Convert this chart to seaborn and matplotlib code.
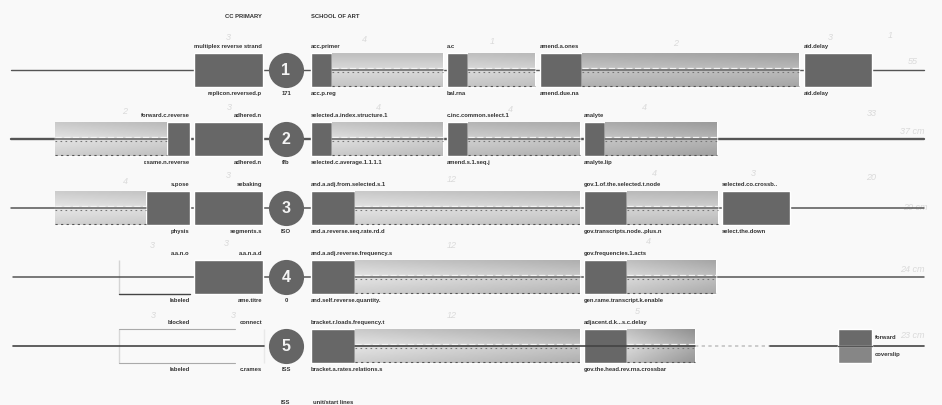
import numpy as np
import matplotlib
matplotlib.use("Agg")
import matplotlib.pyplot as plt
import seaborn as sns

tracks = ["1", "2", "3", "4", "5"]

# exon blocks
seg_track = [0, 0, 0, 0, 0, 0, 0, 0,
             1, 1, 1, 1, 1, 1, 1, 1, 1,
             2, 2, 2, 2, 2, 2, 2, 2,
             3, 3, 3, 3, 3,
             4, 4, 4, 4]
seg_start = [193.5, 311, 332, 447, 468, 539.5, 582, 803.5,
             55, 167, 193.5, 311, 332, 447, 468, 584, 605,
             55, 146, 193.5, 311, 355, 584, 627, 722,
             193.5, 311, 355, 584, 627,
             311, 355, 584, 627]
seg_end = [262.5, 332, 443, 468, 535, 582, 799, 872,
           167, 189.5, 262.5, 332, 443, 468, 580, 605, 716.5,
           146, 189.5, 262.5, 355, 580, 627, 718, 790,
           262.5, 355, 580, 627, 716,
           355, 580, 627, 695]
seg_shade = [None, None, (.80, .80), None, (.80, .78), None, (.72, .68), None,
             (.84, .78), None, None, None, (.82, .76), None, (.76, .72), None, (.72, .66),
             (.85, .82), None, None, None, (.84, .78), None, (.78, .76), None,
             None, None, (.84, .74), None, (.80, .70),
             None, (.84, .72), None, (.80, .62)]

line_start = [11, 11, 11, 13, 13]
line_end = [924, 924, 924, 924, 924]
line_width = [1.0, 1.7, 1.1, 1.1, 1.2]

header_x = [262, 311, 281, 313]
header_track = [-0.78, -0.78, 4.82, 4.82]
header_ha = ["right", "left", "left", "left"]
header_text = ["CC PRIMARY", "SCHOOL OF ART", "ISS", "unit/start lines"]

upper_x = [262, 311, 447, 539.5, 803.5,
           189.5, 262, 311, 447, 584,
           189.5, 262, 311, 584, 722,
           189.5, 262, 311, 584,
           189.5, 262, 311, 584]
upper_track = [0] * 5 + [1] * 5 + [2] * 5 + [3] * 4 + [4] * 4
upper_ha = ["right", "left", "left", "left", "left",
            "right", "right", "left", "left", "left",
            "right", "right", "left", "left", "left",
            "right", "right", "left", "left",
            "right", "right", "left", "left"]
upper_text = ["multiplex reverse strand", "acc.primer", "a.c", "amend.a.ones", "aid.delay",
              "forward.c.reverse", "adhered.n", "selected.a.index.structure.1",
              "c.inc.common.select.1", "analyte",
              "s.pose", "sebaking", "and.a.adj.from.selected.s.1",
              "gov.1.of.the.selected.t.node", "selected.co.crossb..",
              "a.a.n.o", "a.a.n.a.d", "and.a.adj.reverse.frequency.s",
              "gov.frequencies.1.acts",
              "blocked", "connect", "bracket.r.loads.frequency.t",
              "adjacent.d.k...s.c.delay"]

lower_x = [262, 286, 311, 447, 539.5, 803.5,
           189.5, 262, 286, 311, 447, 584,
           189.5, 262, 286, 311, 584, 722,
           189.5, 262, 286, 311, 584,
           189.5, 262, 286, 311, 584]
lower_track = [0] * 6 + [1] * 6 + [2] * 6 + [3] * 5 + [4] * 5
lower_ha = ["right", "center", "left", "left", "left", "left",
            "right", "right", "center", "left", "left", "left",
            "right", "right", "center", "left", "left", "left",
            "right", "right", "center", "left", "left",
            "right", "right", "center", "left", "left"]
lower_text = ["replicon.reversed.p", "171", "acc.p.reg", "bal.rna", "amend.due.na", "aid.delay",
              "r.same.n.reverse", "adhered.n", "ffb", "selected.c.average.1.1.1.1", "amend.s.1.seq.j",
              "analyte.lip",
              "physis", "segments.s", "ISO", "and.a.reverse.seq.rate.rd.d",
              "gov.transcripts.node..plus.n", "select.the.down",
              "labeled", "ame.titre", "0", "and.self.reverse.quantity.", "gen.rame.transcript.k.enable",
              "labeled", "c.rames", "ISS", "bracket.a.rates.relations.s", "gov.the.head.rev.rna.crossbar"]

note_x = [228, 364, 492, 676, 830, 890, 913,
          125, 229, 378, 510, 644, 872, 912,
          125, 228, 452, 654, 753, 871, 915,
          152, 226, 452, 648, 912,
          153, 233, 452, 637, 912]
note_y = [37, 40, 41, 43, 37, 36, 62,
          112, 107, 108, 110, 108, 113, 132,
          181, 175, 179, 174, 174, 178, 207,
          245, 243, 246, 242, 270,
          315, 315, 315, 311, 335]
note_text = ["3", "4", "1", "2", "3", "1", "55",
             "2", "3", "4", "4", "4", "33", "37 cm",
             "4", "3", "12", "4", "3", "20", "20 cm",
             "3", "3", "12", "4", "24 cm",
             "3", "3", "12", "5", "23 cm"]

bg = "#f9f9f9"
dark = "#676767"
sns.set_theme(style="white", rc={"figure.facecolor": bg, "axes.facecolor": bg})
plt.rcParams["font.family"] = ["Liberation Sans", "DejaVu Sans"]

fig, ax = plt.subplots(figsize=(9.42, 4.05), dpi=100)
fig.subplots_adjust(left=0, right=1, top=1, bottom=0)


def to_track(py):
    return (py - 70) / 69.0


# bars
for t, a, b, shade in zip(seg_track, seg_start, seg_end, seg_shade):
    sns.barplot(x=[b - a], y=[tracks[t]], order=tracks, orient="h", left=[a], width=0.49,
                color=dark, saturation=1, ax=ax, zorder=2, legend=False)
    bar = ax.patches[-1]
    if shade is not None:
        # scan is darker at the outer edges, paler by the centre line
        across = np.linspace(shade[0], shade[1], 40)
        down = np.concatenate([np.linspace(-.05, .05, 10), np.linspace(.05, -.03, 10)])
        grad = np.clip(across[None, :] + down[:, None], 0, 1)
        im = ax.imshow(grad, extent=(a, b, t + .245, t - .245), cmap="gray", vmin=0, vmax=1,
                       aspect="auto", zorder=3, interpolation="bilinear")
        im.set_clip_path(bar)
        sns.lineplot(x=[a, b], y=[t + .238, t + .238], color="#555555", lw=.8,
                     dashes=(2, 3), ax=ax, zorder=4, legend=False)

# white gaps beside the centre line inside the shaded blocks
for t, a, b, shade in zip(seg_track, seg_start, seg_end, seg_shade):
    if shade is not None:
        sns.lineplot(x=[a, b], y=[t - .024, t - .024], color="#f4f4f4", lw=.9,
                     dashes=(5, 2), ax=ax, zorder=4, legend=False)
        sns.lineplot(x=[a, b], y=[t + .03, t + .03], color="#777777", lw=.8,
                     dashes=(1.5, 3), ax=ax, zorder=4, legend=False)

# centre lines, blocks with no shade sit on top of them
for i, (a, b, w) in enumerate(zip(line_start, line_end, line_width)):
    if i == 4:
        sns.lineplot(x=[a, 264], y=[i, i], color="#444444", lw=w, ax=ax, zorder=1.5, legend=False)
        sns.lineplot(x=[355, 695], y=[i, i], color="#444444", lw=w, ax=ax, zorder=5, legend=False)
        sns.lineplot(x=[695, 770], y=[i, i], color="#c4c4c4", lw=w, dashes=(2, 2), ax=ax, zorder=1.5, legend=False)
        sns.lineplot(x=[770, b], y=[i, i], color="#444444", lw=w, ax=ax, zorder=1.5, legend=False)
    else:
        sns.lineplot(x=[a, b], y=[i, i], color="#555555", lw=w, ax=ax, zorder=1.5, legend=False)
        for s, e, shade, t in zip(seg_start, seg_end, seg_shade, seg_track):
            if t == i and shade is not None:
                sns.lineplot(x=[s, e], y=[i, i], color="#666666", lw=1.1, ax=ax, zorder=5, legend=False)

# brackets on tracks 4 and 5
sns.lineplot(x=[119, 119], y=[3 - .24, 3 + .24], color="#444444", lw=1, ax=ax, zorder=2, legend=False)
sns.lineplot(x=[119, 189.5], y=[3 + .24, 3 + .24], color="#444444", lw=1, ax=ax, zorder=2, legend=False)
sns.lineplot(x=[119, 119], y=[4 - .25, 4 + .25], color="#555555", lw=1, ax=ax, zorder=2, legend=False)
for yy in (4 - .25, 4 + .25):
    sns.lineplot(x=[119, 235], y=[yy, yy], color="#aaaaaa", lw=.8, ax=ax, zorder=2, legend=False)
sns.lineplot(x=[264, 264], y=[4 - .25, 4 + .25], color="#aaaaaa", lw=.7, ax=ax, zorder=2, legend=False)

# small two tone block on track 5
sns.barplot(x=[34], y=[tracks[4]], order=tracks, orient="h", left=[838], width=0.49,
            color="#6a6a6a", saturation=1, ax=ax, zorder=2, legend=False)
sns.barplot(x=[34], y=[tracks[4]], order=tracks, orient="h", left=[838], width=0.245,
            color="#868686", saturation=1, ax=ax, zorder=2.5, legend=False)
ax.patches[-1].set_y(4)
sns.lineplot(x=[838, 872], y=[4, 4], color="#555555", lw=1, ax=ax, zorder=5, legend=False)

# numbered circles
sns.scatterplot(x=[286] * 5, y=list(range(5)), s=640, color="#656565", linewidth=0,
                ax=ax, zorder=6, legend=False)
for i, label in enumerate(tracks):
    ax.text(286, i + .01, label, color="#f4f4f4", fontsize=11.5, fontweight="bold",
            ha="center", va="center", zorder=7)

# text labels
label_kw = dict(color="#333333", fontsize=4.2, fontweight="bold", va="center", zorder=8)
for x, t, ha, s in zip(upper_x, upper_track, upper_ha, upper_text):
    ax.text(x, t - .335, s, ha=ha, **label_kw)
for x, t, ha, s in zip(lower_x, lower_track, lower_ha, lower_text):
    ax.text(x, t + .345, s, ha=ha, **label_kw)
for x, t, ha, s in zip(header_x, header_track, header_ha, header_text):
    ax.text(x, t, s, ha=ha, **label_kw)
ax.text(875, 4 - .13, "forward", ha="left", **label_kw)
ax.text(875, 4 + .12, "coverslip", ha="left", **label_kw)

# faint pencil notes
for x, y, s in zip(note_x, note_y, note_text):
    ax.text(x, to_track(y), s, color="#dadada", fontsize=6.5, style="italic",
            ha="center", va="center", zorder=1)

ax.set_xlim(0, 942)
ax.set_ylim(to_track(405), to_track(0))
ax.set_axis_off()

plt.savefig("out.png", dpi=100, facecolor=bg)
plt.close()
